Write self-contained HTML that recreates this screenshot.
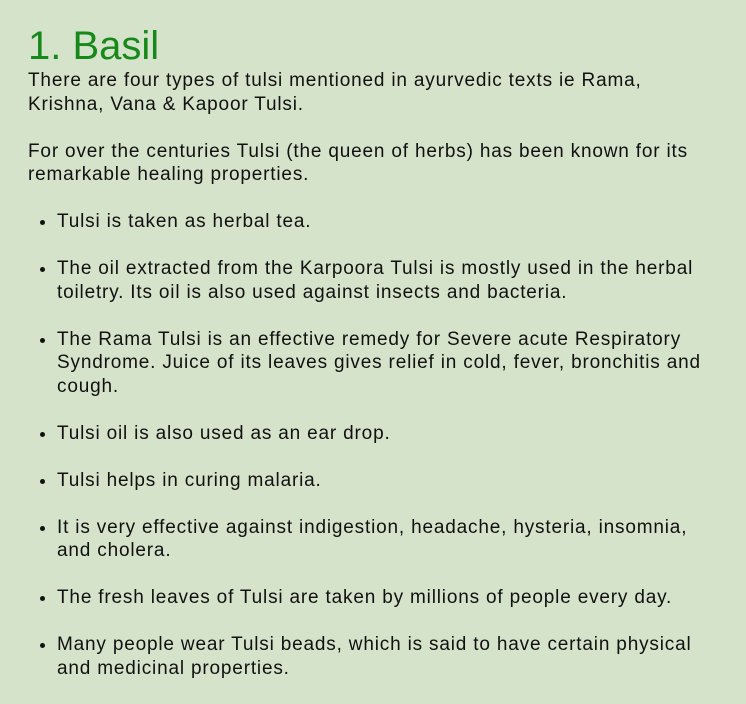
<!DOCTYPE html>
<html>
<head>
<meta charset="utf-8">
<style>
  html, body { margin: 0; padding: 0; }
  body {
    width: 746px; height: 702px; overflow: hidden;
    background: #d5e3cb;
    font-family: "Liberation Sans", sans-serif;
    color: #111;
  }
  .wrap { position: absolute; left: 28px; top: 23px; width: 718px; }
  h1 {
    margin: 0; font-weight: normal; color: #17891a;
    font-size: 40px; line-height: 46px; letter-spacing: 0px;
  }
  p { margin: 0 0 23.5px 0; font-size: 19px; line-height: 23.5px; letter-spacing: 0.82px; white-space: nowrap; }
  ul { margin: 0; padding-left: 29px; }
  li { font-size: 19px; line-height: 23.5px; margin-bottom: 23.5px; letter-spacing: 0.82px; white-space: nowrap; }
</style>
</head>
<body>
<div class="wrap">
  <h1>1. Basil</h1>
  <p>There are four types of tulsi mentioned in ayurvedic texts ie Rama,<br>Krishna, Vana &amp; Kapoor Tulsi.</p>
  <p>For over the centuries Tulsi (the queen of herbs) has been known for its<br>remarkable healing properties.</p>
  <ul>
    <li>Tulsi is taken as herbal tea.</li>
    <li>The oil extracted from the Karpoora Tulsi is mostly used in the herbal<br>toiletry. Its oil is also used against insects and bacteria.</li>
    <li>The Rama Tulsi is an effective remedy for Severe acute Respiratory<br>Syndrome. Juice of its leaves gives relief in cold, fever, bronchitis and<br>cough.</li>
    <li>Tulsi oil is also used as an ear drop.</li>
    <li>Tulsi helps in curing malaria.</li>
    <li>It is very effective against indigestion, headache, hysteria, insomnia,<br>and cholera.</li>
    <li>The fresh leaves of Tulsi are taken by millions of people every day.</li>
    <li>Many people wear Tulsi beads, which is said to have certain physical<br>and medicinal properties.</li>
  </ul>
</div>
</body>
</html>
